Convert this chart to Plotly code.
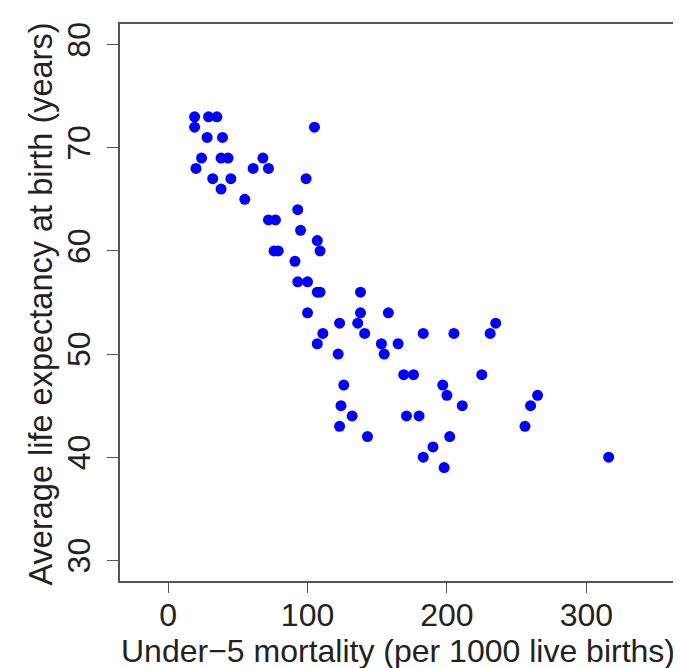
import plotly.graph_objects as go

under5_mortality = [19, 19, 29, 35, 28, 39, 24, 20, 38, 43, 32, 45, 38, 55, 61, 68, 72,
                    105, 99, 93, 95, 72, 77, 107, 109, 76, 79, 91, 93, 100, 107, 109, 100,
                    111, 107, 123, 122, 138, 138, 136, 141, 158, 153, 155, 165, 183, 205,
                    231, 235, 126, 124, 123, 132, 143, 169, 176, 171, 180, 183, 190, 198,
                    197, 200, 202, 211, 225, 256, 260, 265, 316]
life_expectancy = [73, 72, 73, 73, 71, 71, 69, 68, 69, 69, 67, 67, 66, 65, 68, 69, 68,
                   72, 67, 64, 62, 63, 63, 61, 60, 60, 60, 59, 57, 57, 56, 56, 54,
                   52, 51, 53, 50, 56, 54, 53, 52, 54, 51, 50, 51, 52, 52,
                   52, 53, 47, 45, 43, 44, 42, 48, 48, 44, 44, 40, 41, 39,
                   47, 46, 42, 45, 48, 43, 45, 46, 40]

x_ticks = [0, 100, 200, 300]
y_ticks = [30, 40, 50, 60, 70, 80]
x_title = "Under\u22125 mortality (per 1000 live births)"
y_title = "Average life expectancy at birth (years)"

FONT = "Liberation Sans, Arial, Helvetica, sans-serif"
TXT = "#222222"
FS = 32

fig = go.Figure(go.Scatter(
    x=under5_mortality, y=life_expectancy, mode="markers",
    marker=dict(color="#0000ff", size=11, line=dict(width=0)),
))

fig.update_layout(
    width=681, height=668,
    margin=dict(l=112, r=13, t=16, b=95, autoexpand=False),
    paper_bgcolor="white", plot_bgcolor="white",
    showlegend=False,
    font=dict(family=FONT, size=FS, color=TXT),
    annotations=[dict(
        text=y_title, textangle=-90, xref="paper", yref="paper",
        x=0, y=0.5, xanchor="center", yanchor="middle", xshift=-80, yshift=-2,
        showarrow=False, font=dict(size=32.5, family=FONT, color=TXT),
    )],
)
fig.update_xaxes(
    range=[-34.5, 364.3], tickvals=x_ticks, ticktext=[str(v) for v in x_ticks],
    showgrid=False, zeroline=False, showline=True, mirror=True, automargin=False,
    linecolor="#555555", linewidth=1.5, ticks="outside", ticklen=10,
    tickcolor="#555555", tickwidth=1.2, ticklabelstandoff=-5,
    tickfont=dict(size=FS, family=FONT, color=TXT),
    title=dict(text=x_title, font=dict(size=FS, family=FONT, color=TXT), standoff=0),
)
fig.update_yaxes(
    range=[28, 82], tickvals=y_ticks, ticktext=[str(v) for v in y_ticks],
    showgrid=False, zeroline=False, showline=True, mirror=True, automargin=False,
    linecolor="#555555", linewidth=1.5, ticks="outside", ticklen=11,
    tickcolor="#555555", tickwidth=1.2, tickangle=-90, ticklabelstandoff=4,
    tickfont=dict(size=FS, family=FONT, color=TXT),
)

fig.write_html("out.html")
